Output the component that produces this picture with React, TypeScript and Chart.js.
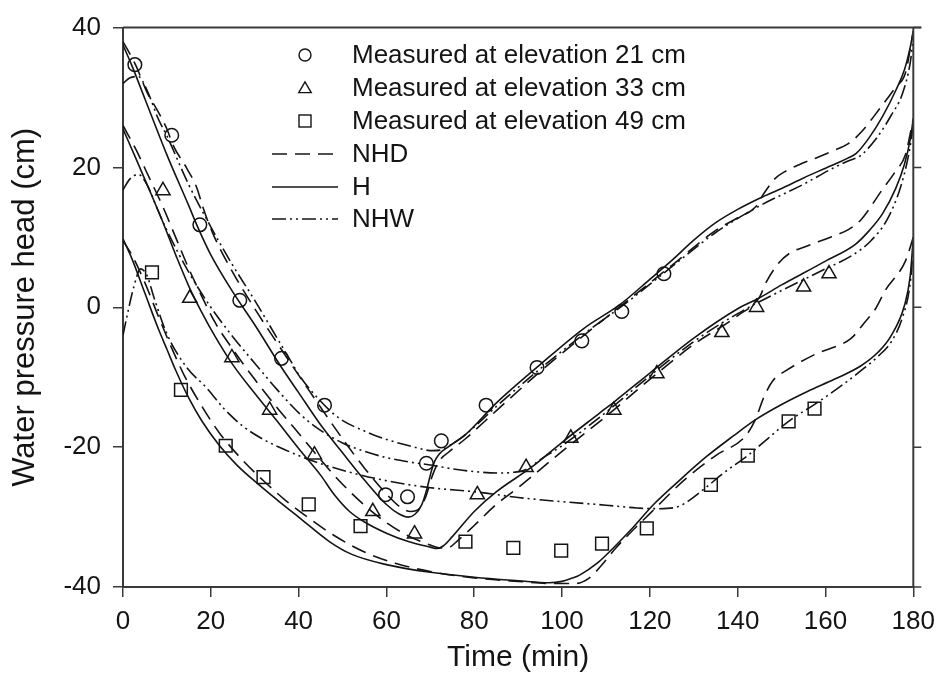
import { useEffect, useRef } from "react";
import { Chart, registerables } from "chart.js";

Chart.register(...registerables);

// ---------- data ----------
const xTicks = [0, 20, 40, 60, 80, 100, 120, 140, 160, 180];
const yTicks = [-40, -20, 0, 20, 40];

const legendLabels = [
  "Measured at elevation 21 cm",
  "Measured at elevation 33 cm",
  "Measured at elevation 49 cm",
  "NHD",
  "H",
  "NHW",
];

// measured points
const m21T = [2.7, 11.1, 17.5, 26.6, 36.1, 45.9, 59.8, 64.8, 69.1, 72.5, 82.7, 94.3, 104.5, 113.6, 123.2];
const m21V = [34.7, 24.6, 11.8, 1.0, -7.3, -14.0, -26.8, -27.1, -22.3, -19.1, -14.0, -8.6, -4.8, -0.6, 4.8];

const m33T = [9.1, 15.2, 24.8, 33.4, 43.6, 56.9, 66.4, 80.7, 91.8, 102, 111.8, 121.6, 136.4, 144.3, 155, 160.8];
const m33V = [16.7, 1.3, -7.2, -14.7, -21.1, -29.2, -32.4, -26.8, -22.9, -18.7, -14.7, -9.5, -3.6, 0.0, 2.9, 4.8];

const m49T = [6.6, 13.2, 23.4, 32, 42.3, 54.1, 78, 88.9, 99.8, 109.1, 119.3, 133.9, 142.3, 151.6, 157.5];
const m49V = [5.0, -11.8, -19.8, -24.3, -28.2, -31.3, -33.5, -34.4, -34.8, -33.8, -31.6, -25.4, -21.2, -16.3, -14.5];

// simulated, elevation 21 cm
const h21T = [0, 2, 5, 10, 15, 17, 20, 25, 30, 36, 40, 45, 50, 55, 60, 63, 65, 66.5, 68, 69.2, 70.2, 71, 72, 74, 78, 85, 95, 105, 113, 120, 125, 130, 135, 140, 145, 150, 155, 160, 165, 167, 170, 173, 176, 178, 179.3, 180];
const h21V = [37.5, 34.6, 29.8, 21.8, 14.5, 11.5, 7.5, 2.2, -2.5, -8.5, -12.2, -16.8, -20.8, -24.7, -28.2, -29.6, -30, -29.6, -28.3, -26, -23.5, -22, -21, -20, -18.2, -13.7, -8.2, -3, 0.3, 4, 6.7, 9.6, 12.1, 14, 15.6, 17, 18.5, 19.9, 21.3, 22, 24.3, 27.3, 31, 34, 37.2, 39.5];

const nhd21T = [0, 3, 5.5, 7.7, 10, 11.4, 14.5, 16.8, 18.2, 20.5, 25, 30, 35, 40, 45, 50, 55, 60, 63, 65.5, 67.5, 69, 70.5, 72, 74, 78, 85, 95, 105, 115, 125, 135, 140, 144, 146, 148.5, 151, 154, 158, 161.4, 165.2, 168.2, 172.8, 176, 178.2, 180];
const nhd21V = [38, 34.5, 30.7, 28.3, 25.5, 23.2, 19.9, 17.1, 14.3, 10.5, 5, -0.2, -5, -9.7, -14.3, -18.8, -23, -26.7, -28.5, -29.2, -28.8, -27, -24, -22, -20.8, -18.8, -14.8, -9.2, -4, 1, 6, 11, 12.8, 14.3, 16.3, 18.4, 19.5, 20.4, 21.4, 22.3, 23.4, 25.1, 28.8, 31.5, 33.5, 39.5];

const nhw21T = [0, 1.5, 3.5, 5.5, 8, 10, 15, 20, 25, 30, 35, 38.6, 40, 44.8, 49.3, 55, 57.7, 60, 65.2, 70.5, 72.5, 74.3, 78, 85, 95, 105, 115, 125, 135, 145, 155, 161.4, 165, 168, 172, 175, 177.5, 179.3, 180];
const nhw21V = [32, 32.8, 33, 31, 27, 24.5, 17.5, 11.5, 6, 1, -4.3, -8.1, -9.6, -13.3, -15.9, -17.7, -18.4, -18.9, -19.8, -20.5, -20.4, -19.8, -18.2, -14.2, -8.8, -3.8, 0.8, 5.8, 10.7, 14.5, 17.6, 19.8, 20.9, 21.7, 24.5, 27.5, 30.5, 35, 38.5];

// simulated, elevation 33 cm
const h33T = [0, 3, 6, 9, 12, 15, 18, 21, 25, 30, 35, 40, 45, 48, 51.6, 55, 60, 65, 70, 71.5, 73, 75, 80, 85, 93.2, 100, 108.4, 112.3, 120, 130, 140, 144.8, 150, 155, 160, 166.8, 170, 173, 176, 178, 179.3, 180];
const h33V = [25.5, 21.2, 16.8, 12.3, 7.5, 3, -0.8, -4.2, -8.2, -12.3, -16.2, -20.2, -24, -26.7, -29.2, -30.7, -32.3, -33.5, -34.3, -34.5, -34.1, -32.8, -29.2, -26.4, -22.8, -19.3, -15.2, -13.3, -9.4, -4.4, -0.2, 1.3, 3.2, 4.9, 6.6, 9, 11, 13.4, 17, 20.5, 24, 27];

const nhd33T = [0, 3, 6, 9, 12, 15, 18, 21, 25, 30, 35, 40, 45, 50, 55, 60, 65, 70, 72, 74, 76, 80, 85, 90, 95, 100, 110, 120, 130, 140, 145, 146.5, 149.3, 152, 155.5, 161.4, 165.2, 168.2, 172.8, 176, 178.2, 180];
const nhd33V = [26, 22.5, 18.5, 14.5, 10, 5.5, 1.5, -2.2, -6, -10.3, -14.3, -18, -21.8, -25.3, -28.3, -30.8, -32.7, -34, -34.4, -34.4, -33.5, -31.2, -28.2, -25.8, -23.2, -20.6, -15.6, -10.3, -5.3, -1.2, 1.5, 3.6, 6.3, 7.8, 8.7, 10.1, 11.1, 12.6, 16.7, 19.5, 21.8, 27];

const nhw33T = [0, 1.5, 3.5, 5.5, 8, 10, 15, 20, 25, 30, 35, 40.2, 45, 50, 55, 60, 65, 70.5, 75, 80, 85.7, 89, 91.8, 95, 100, 110, 120, 130, 140, 150, 160, 166, 170, 174, 177, 179, 180];
const nhw33V = [16.8, 18.3, 19, 17.5, 13.8, 11, 5, 0, -4.2, -8, -11.7, -15.2, -17.6, -19.4, -20.6, -21.5, -22.1, -22.6, -23.1, -23.5, -23.7, -23.6, -23.2, -21.8, -19.8, -15, -9.8, -4.9, -0.9, 2.4, 5.5, 7.4, 9.3, 12.5, 17, 22, 26];

// simulated, elevation 49 cm
const h49T = [0, 2, 5, 8, 10, 12, 15, 18, 22, 26, 31, 36, 40, 47, 52, 60, 70, 80, 90, 97, 100, 102, 104, 108, 112, 116, 121, 127, 133, 139, 144, 150, 156, 162, 168, 172, 175, 178, 179.3, 180];
const h49V = [9.8, 7, 2, -3, -6, -9, -13, -16.3, -19.8, -22.6, -25.4, -28, -30, -33.5, -35.3, -36.8, -37.9, -38.6, -39.1, -39.4, -39.2, -38.8, -38.3, -36.6, -34.2, -31.6, -28.1, -24.6, -21.3, -18.4, -16.1, -13.9, -12, -10.3, -8.4, -6.4, -4, 0.3, 4.5, 10];

const nhd49T = [0, 2, 5, 8, 11, 14, 18, 22, 27, 32, 37, 42, 48, 55, 62, 70, 80, 90, 98, 103, 106, 109, 112, 115, 120, 128.2, 135, 141.8, 144, 146, 148, 150.9, 157.7, 165.9, 169, 171.4, 173.6, 178.2, 180];
const nhd49V = [9.5, 7.5, 3.5, -1.2, -5.7, -9.8, -14.2, -18, -21.7, -24.8, -27.6, -30, -32.6, -35, -36.6, -37.8, -38.7, -39.2, -39.5, -39.5, -38.8, -36.9, -34.6, -32.6, -29.5, -24.5, -21.2, -18.4, -16.1, -12.8, -10.5, -9.1, -6.7, -4.4, -2.1, -0.2, 2.4, 6.6, 10];

const nhw49T = [0, 1, 2.5, 4, 5.5, 7, 10, 14.5, 19, 23, 27.3, 32, 37, 42, 50, 60, 70, 80.4, 90, 100, 110, 117, 122, 126.5, 129, 132.7, 137, 142.3, 147, 151.6, 157.7, 163, 169, 172, 175, 177.5, 179.2, 180];
const nhw49V = [-4, -1, 3, 5.5, 4.5, 1.5, -3.8, -8.6, -11.5, -14.5, -17, -18.9, -20.4, -21.7, -23.3, -24.8, -25.8, -26.4, -27.2, -27.8, -28.3, -28.7, -28.8, -28.5, -27.6, -25.8, -23.6, -21.2, -18.7, -16.3, -13.8, -11.5, -8.6, -7, -4.9, -1.5, 3, 8];

// ---------- styles ----------
const FONT = '"Liberation Sans", Arial, Helvetica, sans-serif';
const INK = "#141414";
const AXIS = "#3a3a3a";
const NHD_DASH = [15, 8];
const NHW_DASH = [14, 4, 2, 4, 2, 4];
const LW = 1.6;

const pts = (t: number[], v: number[]) => t.map((x, i) => ({ x, y: v[i] }));

const markerSet = (label: string, t: number[], v: number[], style: string, r: number) => ({
  type: "scatter" as const,
  label,
  data: pts(t, v),
  showLine: false,
  pointStyle: style,
  pointRadius: r,
  pointBorderWidth: 1.5,
  pointBorderColor: INK,
  pointBackgroundColor: "rgba(0,0,0,0)",
  borderColor: INK,
  backgroundColor: "rgba(0,0,0,0)",
});

const lineSet = (label: string, t: number[], v: number[], dash: number[]) => ({
  type: "line" as const,
  label,
  data: pts(t, v),
  borderColor: INK,
  borderWidth: LW,
  borderDash: dash,
  pointRadius: 0,
  fill: false,
  cubicInterpolationMode: "monotone" as const,
});

// frame on top / right with outward ticks on the right
const framePlugin = {
  id: "frame",
  afterDraw(chart: any) {
    const { ctx, chartArea } = chart;
    const y = chart.scales.y;
    ctx.save();
    ctx.strokeStyle = AXIS;
    ctx.lineWidth = 2;
    ctx.beginPath();
    ctx.moveTo(chartArea.left, chartArea.top);
    ctx.lineTo(chartArea.right + 8, chartArea.top);
    ctx.moveTo(chartArea.right, chartArea.top);
    ctx.lineTo(chartArea.right, chartArea.bottom);
    ctx.stroke();
    ctx.lineWidth = 1.5;
    ctx.beginPath();
    yTicks.forEach((v) => {
      const py = y.getPixelForValue(v);
      ctx.moveTo(chartArea.right, py);
      ctx.lineTo(chartArea.right + 8, py);
    });
    ctx.stroke();
    ctx.restore();
  },
};

// legend drawn inside the plot area
const legendPlugin = {
  id: "innerLegend",
  afterDraw(chart: any) {
    const { ctx } = chart;
    const rowY = [55, 88, 121, 154, 187, 219];
    const mx = 305;
    const tx = 352;
    ctx.save();
    ctx.strokeStyle = INK;
    ctx.fillStyle = INK;
    ctx.lineWidth = 1.4;
    ctx.beginPath();
    ctx.arc(mx, rowY[0], 6, 0, Math.PI * 2);
    ctx.stroke();
    const tr = 7.2;
    ctx.beginPath();
    for (let k = 0; k < 3; k++) {
      const a = (k * 2 * Math.PI) / 3;
      const px = mx + Math.sin(a) * tr;
      const py = rowY[1] + 1 - Math.cos(a) * tr;
      if (k === 0) ctx.moveTo(px, py);
      else ctx.lineTo(px, py);
    }
    ctx.closePath();
    ctx.stroke();
    ctx.strokeRect(mx - 6, rowY[2] - 6, 12, 12);
    const samples = [NHD_DASH, [], NHW_DASH];
    ctx.lineWidth = LW;
    samples.forEach((d, i) => {
      ctx.setLineDash(d);
      ctx.beginPath();
      ctx.moveTo(272, rowY[3 + i]);
      ctx.lineTo(338, rowY[3 + i]);
      ctx.stroke();
    });
    ctx.setLineDash([]);
    ctx.font = `26px ${FONT}`;
    ctx.textAlign = "left";
    ctx.textBaseline = "middle";
    legendLabels.forEach((s, i) => ctx.fillText(s, tx, rowY[i] + 1));
    ctx.restore();
  },
};

export default function App() {
  const ref = useRef<HTMLCanvasElement>(null);

  useEffect(() => {
    if (!ref.current) return;
    const chart = new Chart(ref.current, {
      type: "line",
      data: {
        datasets: [
          markerSet(legendLabels[0], m21T, m21V, "circle", 6.8),
          markerSet(legendLabels[1], m33T, m33V, "triangle", 8.2),
          markerSet(legendLabels[2], m49T, m49V, "rect", 9),
          lineSet("NHD 21", nhd21T, nhd21V, NHD_DASH),
          lineSet("H 21", h21T, h21V, []),
          lineSet("NHW 21", nhw21T, nhw21V, NHW_DASH),
          lineSet("NHD 33", nhd33T, nhd33V, NHD_DASH),
          lineSet("H 33", h33T, h33V, []),
          lineSet("NHW 33", nhw33T, nhw33V, NHW_DASH),
          lineSet("NHD 49", nhd49T, nhd49V, NHD_DASH),
          lineSet("H 49", h49T, h49V, []),
          lineSet("NHW 49", nhw49T, nhw49V, NHW_DASH),
        ] as any,
      },
      options: {
        animation: false,
        responsive: false,
        maintainAspectRatio: false,
        layout: { padding: { left: 0, right: 29, top: 17, bottom: 0 } },
        plugins: { legend: { display: false }, tooltip: { enabled: false } },
        scales: {
          x: {
            type: "linear",
            min: 0,
            max: 180,
            afterBuildTicks: (s: any) => {
              s.ticks = xTicks.map((value) => ({ value }));
            },
            afterFit: (s: any) => {
              s.height = 111;
            },
            ticks: { color: INK, font: { family: FONT, size: 26 }, padding: 9, maxRotation: 0 },
            grid: { drawOnChartArea: false, drawTicks: true, tickLength: 10, color: AXIS, lineWidth: 1.5 },
            border: { display: true, color: AXIS, width: 2 },
            title: {
              display: true,
              text: "Time (min)",
              color: INK,
              font: { family: FONT, size: 30 },
              padding: { top: 0, bottom: 22 },
            },
          },
          y: {
            type: "linear",
            min: -40,
            max: 40,
            afterBuildTicks: (s: any) => {
              s.ticks = yTicks.map((value) => ({ value }));
            },
            afterFit: (s: any) => {
              s.width = 123;
            },
            ticks: { color: INK, font: { family: FONT, size: 26 }, padding: 12 },
            grid: { drawOnChartArea: false, drawTicks: true, tickLength: 10, color: AXIS, lineWidth: 1.5 },
            border: { display: true, color: AXIS, width: 2 },
            title: {
              display: true,
              text: "Water pressure head (cm)",
              color: INK,
              font: { family: FONT, size: 31 },
              padding: { top: 7, bottom: 0 },
            },
          },
        },
      },
      plugins: [framePlugin, legendPlugin],
    });
    return () => chart.destroy();
  }, []);

  return (
    <div style={{ position: "absolute", left: 0, top: 0, width: 944, height: 698, background: "#fff" }}>
      <canvas ref={ref} width={944} height={698} style={{ display: "block" }} />
    </div>
  );
}
